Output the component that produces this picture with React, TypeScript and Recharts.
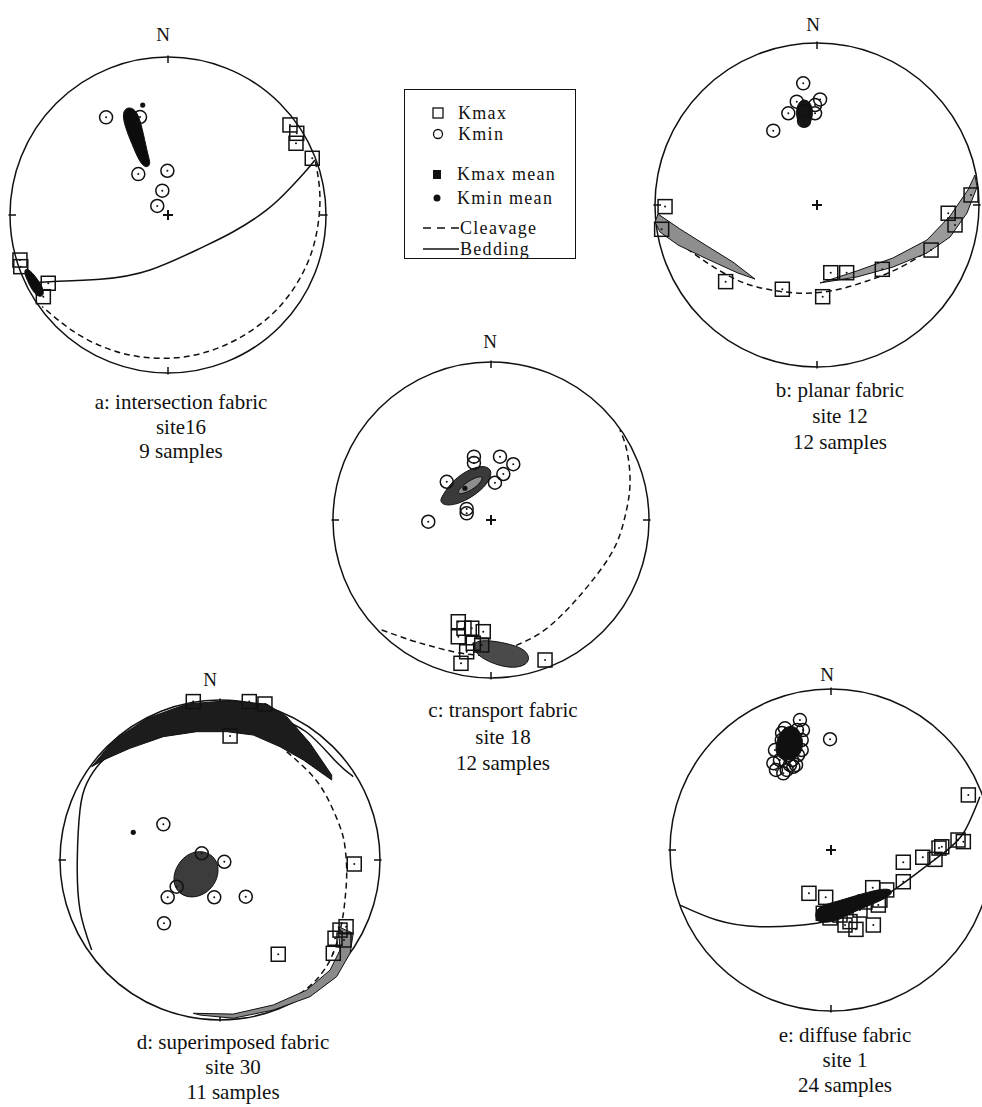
import React from "react";
import { ComposedChart, Scatter, XAxis, YAxis, ReferenceDot, ReferenceLine, Curve } from "recharts";

type Pt = { x: number; y: number };

// net coordinates: x = east, y = north, primitive circle radius = 1

// a: intersection fabric, site16
const aKmax: Pt[] = [
  { x: 0.772, y: 0.57 }, { x: 0.815, y: 0.517 }, { x: 0.81, y: 0.454 }, { x: 0.913, y: 0.359 },
  { x: -0.937, y: -0.285 }, { x: -0.932, y: -0.327 }, { x: -0.758, y: -0.432 }, { x: -0.789, y: -0.517 },
];
const aKmin: Pt[] = [
  { x: -0.392, y: 0.618 }, { x: -0.177, y: 0.62 }, { x: -0.188, y: 0.259 },
  { x: -0.004, y: 0.28 }, { x: -0.036, y: 0.154 }, { x: -0.068, y: 0.057 },
];
const aKminMean: Pt[] = [{ x: -0.16, y: 0.696 }];
const aKminCone: Pt[] = [
  { x: -0.272, y: 0.675 }, { x: -0.23, y: 0.682 }, { x: -0.188, y: 0.644 }, { x: -0.156, y: 0.517 },
  { x: -0.125, y: 0.369 }, { x: -0.109, y: 0.323 }, { x: -0.135, y: 0.296 }, { x: -0.177, y: 0.327 },
  { x: -0.23, y: 0.454 }, { x: -0.272, y: 0.559 }, { x: -0.287, y: 0.633 },
];
const aKmaxCone: Pt[] = [
  { x: -0.899, y: -0.335 }, { x: -0.861, y: -0.361 }, { x: -0.823, y: -0.411 }, { x: -0.791, y: -0.462 },
  { x: -0.785, y: -0.513 }, { x: -0.823, y: -0.519 }, { x: -0.861, y: -0.475 }, { x: -0.892, y: -0.411 },
  { x: -0.911, y: -0.361 },
];
const aBedding: Pt[] = [
  { x: -0.842, y: -0.43 }, { x: -0.747, y: -0.422 }, { x: -0.43, y: -0.407 }, { x: -0.114, y: -0.348 },
  { x: 0.203, y: -0.211 }, { x: 0.413, y: -0.106 }, { x: 0.625, y: 0.032 }, { x: 0.772, y: 0.169 },
  { x: 0.878, y: 0.285 }, { x: 0.93, y: 0.348 },
];
const aCleavage: Pt[] = [
  { x: 0.933, y: 0.34 }, { x: 0.961, y: 0.135 }, { x: 0.946, y: -0.083 }, { x: 0.889, y: -0.289 },
  { x: 0.78, y: -0.488 }, { x: 0.631, y: -0.653 }, { x: 0.45, y: -0.779 }, { x: 0.263, y: -0.861 },
  { x: 0.047, y: -0.904 }, { x: -0.19, y: -0.895 }, { x: -0.408, y: -0.836 }, { x: -0.611, y: -0.728 },
  { x: -0.797, y: -0.579 },
];

// b: planar fabric, site 12
const bKmax: Pt[] = [
  { x: -0.938, y: -0.01 }, { x: -0.959, y: -0.15 }, { x: -0.564, y: -0.473 }, { x: -0.214, y: -0.52 },
  { x: 0.035, y: -0.566 }, { x: 0.085, y: -0.418 }, { x: 0.183, y: -0.418 }, { x: 0.403, y: -0.397 },
  { x: 0.704, y: -0.278 }, { x: 0.81, y: -0.051 }, { x: 0.852, y: -0.123 }, { x: 0.951, y: 0.062 },
];
const bKmin: Pt[] = [
  { x: -0.085, y: 0.751 }, { x: -0.125, y: 0.638 }, { x: 0.019, y: 0.652 }, { x: -0.012, y: 0.617 },
  { x: -0.177, y: 0.566 }, { x: -0.012, y: 0.566 }, { x: -0.27, y: 0.459 }, { x: -0.075, y: 0.58 },
  { x: -0.08, y: 0.52 },
];
const bKminCone: Pt[] = [
  { x: -0.08, y: 0.654 }, { x: -0.043, y: 0.636 }, { x: -0.025, y: 0.586 }, { x: -0.031, y: 0.525 },
  { x: -0.062, y: 0.481 }, { x: -0.099, y: 0.481 }, { x: -0.123, y: 0.525 }, { x: -0.13, y: 0.586 },
  { x: -0.111, y: 0.636 },
];
const bKmaxConeW: Pt[] = [
  { x: -0.981, y: -0.056 }, { x: -0.846, y: -0.148 }, { x: -0.679, y: -0.253 }, { x: -0.519, y: -0.352 },
  { x: -0.383, y: -0.457 }, { x: -0.488, y: -0.42 }, { x: -0.679, y: -0.333 }, { x: -0.858, y: -0.247 },
  { x: -0.969, y: -0.167 }, { x: -1.0, y: -0.105 },
];
const bKmaxConeE: Pt[] = [
  { x: 0.019, y: -0.481 }, { x: 0.247, y: -0.407 }, { x: 0.469, y: -0.327 }, { x: 0.679, y: -0.216 },
  { x: 0.821, y: -0.068 }, { x: 0.932, y: 0.093 }, { x: 0.975, y: 0.185 }, { x: 0.988, y: 0.111 },
  { x: 0.926, y: -0.049 }, { x: 0.821, y: -0.198 }, { x: 0.679, y: -0.296 }, { x: 0.469, y: -0.383 },
  { x: 0.247, y: -0.444 },
];
const bCleavage: Pt[] = [
  { x: -0.988, y: -0.105 }, { x: -0.846, y: -0.235 }, { x: -0.685, y: -0.352 }, { x: -0.519, y: -0.451 },
  { x: -0.37, y: -0.506 }, { x: -0.198, y: -0.537 }, { x: -0.025, y: -0.543 }, { x: 0.142, y: -0.519 },
  { x: 0.309, y: -0.469 }, { x: 0.469, y: -0.407 }, { x: 0.636, y: -0.315 }, { x: 0.79, y: -0.191 },
  { x: 0.901, y: -0.043 }, { x: 0.981, y: 0.099 },
];

// c: transport fabric, site 18
const cKmax: Pt[] = [
  { x: -0.207, y: -0.644 }, { x: -0.171, y: -0.685 }, { x: -0.207, y: -0.739 }, { x: -0.122, y: -0.685 },
  { x: -0.049, y: -0.707 }, { x: -0.112, y: -0.78 }, { x: -0.154, y: -0.834 }, { x: -0.059, y: -0.791 },
  { x: -0.19, y: -0.907 }, { x: 0.342, y: -0.886 },
];
const cKmin: Pt[] = [
  { x: -0.108, y: 0.401 }, { x: 0.057, y: 0.401 }, { x: 0.141, y: 0.353 }, { x: 0.078, y: 0.291 },
  { x: 0.025, y: 0.236 }, { x: -0.28, y: 0.242 }, { x: -0.154, y: 0.042 }, { x: -0.397, y: -0.011 },
  { x: -0.154, y: 0.07 }, { x: -0.108, y: 0.361 },
];
const cKminMean: Pt[] = [{ x: -0.165, y: 0.201 }];
const cKminCone: Pt[] = [
  { x: -0.312, y: 0.147 }, { x: -0.245, y: 0.25 }, { x: -0.133, y: 0.326 }, { x: -0.036, y: 0.347 },
  { x: 0.012, y: 0.31 }, { x: -0.02, y: 0.228 }, { x: -0.112, y: 0.148 }, { x: -0.22, y: 0.096 },
  { x: -0.298, y: 0.092 }, { x: -0.322, y: 0.12 },
];
const cKminConeCore: Pt[] = [
  { x: -0.228, y: 0.165 }, { x: -0.165, y: 0.234 }, { x: -0.082, y: 0.278 }, { x: -0.044, y: 0.272 },
  { x: -0.082, y: 0.215 }, { x: -0.165, y: 0.165 },
];
const cKmaxCone: Pt[] = [
  { x: -0.112, y: -0.77 }, { x: -0.027, y: -0.759 }, { x: 0.099, y: -0.78 }, { x: 0.204, y: -0.812 },
  { x: 0.247, y: -0.865 }, { x: 0.226, y: -0.918 }, { x: 0.141, y: -0.939 }, { x: 0.036, y: -0.918 },
  { x: -0.059, y: -0.875 }, { x: -0.112, y: -0.823 },
];
const cCleavage: Pt[] = [
  { x: -0.692, y: -0.696 }, { x: -0.513, y: -0.759 }, { x: -0.365, y: -0.802 }, { x: -0.196, y: -0.842 },
  { x: -0.006, y: -0.854 }, { x: 0.141, y: -0.802 }, { x: 0.31, y: -0.717 }, { x: 0.479, y: -0.57 },
  { x: 0.627, y: -0.401 }, { x: 0.774, y: -0.19 }, { x: 0.848, y: 0.021 }, { x: 0.88, y: 0.232 },
  { x: 0.859, y: 0.443 }, { x: 0.816, y: 0.57 },
];

// d: superimposed fabric, site 30
const dKmax: Pt[] = [
  { x: -0.167, y: 0.99 }, { x: 0.183, y: 0.99 }, { x: 0.281, y: 0.975 }, { x: 0.063, y: 0.775 },
  { x: 0.839, y: -0.025 }, { x: 0.364, y: -0.589 }, { x: 0.788, y: -0.417 }, { x: 0.719, y: -0.489 },
  { x: 0.708, y: -0.583 }, { x: 0.75, y: -0.438 }, { x: 0.775, y: -0.5 },
];
const dKmin: Pt[] = [
  { x: -0.354, y: 0.223 }, { x: 0.027, y: -0.011 }, { x: -0.114, y: 0.042 }, { x: -0.327, y: -0.233 },
  { x: -0.036, y: -0.233 }, { x: 0.161, y: -0.229 }, { x: -0.35, y: -0.396 }, { x: -0.271, y: -0.167 },
];
const dKminMean: Pt[] = [{ x: -0.542, y: 0.173 }];
const dKminCone: Pt[] = [
  { x: -0.125, y: 0.063 }, { x: -0.042, y: 0.031 }, { x: -0.004, y: -0.042 }, { x: -0.021, y: -0.136 },
  { x: -0.083, y: -0.208 }, { x: -0.167, y: -0.239 }, { x: -0.25, y: -0.219 }, { x: -0.296, y: -0.146 },
  { x: -0.281, y: -0.052 }, { x: -0.219, y: 0.031 },
];
const dKmaxConeN: Pt[] = [
  { x: -0.802, y: 0.583 }, { x: -0.667, y: 0.745 }, { x: -0.458, y: 0.884 }, { x: -0.208, y: 0.975 },
  { x: 0.042, y: 0.995 }, { x: 0.292, y: 0.975 }, { x: 0.417, y: 0.896 }, { x: 0.563, y: 0.729 },
  { x: 0.698, y: 0.531 }, { x: 0.698, y: 0.5 }, { x: 0.521, y: 0.625 }, { x: 0.375, y: 0.708 },
  { x: 0.208, y: 0.781 }, { x: 0.042, y: 0.802 }, { x: -0.146, y: 0.802 }, { x: -0.354, y: 0.771 },
  { x: -0.563, y: 0.698 }, { x: -0.729, y: 0.625 },
];
const dKmaxConeSE: Pt[] = [
  { x: 0.833, y: -0.458 }, { x: 0.813, y: -0.583 }, { x: 0.729, y: -0.729 }, { x: 0.563, y: -0.854 },
  { x: 0.333, y: -0.938 }, { x: 0.083, y: -0.989 }, { x: -0.125, y: -0.969 }, { x: -0.167, y: -0.958 },
  { x: 0.083, y: -0.963 }, { x: 0.333, y: -0.906 }, { x: 0.542, y: -0.813 }, { x: 0.688, y: -0.688 },
  { x: 0.75, y: -0.563 }, { x: 0.739, y: -0.417 },
];
const dBedding: Pt[] = [
  { x: -0.802, y: -0.563 }, { x: -0.875, y: -0.313 }, { x: -0.892, y: 0 }, { x: -0.875, y: 0.313 },
  { x: -0.833, y: 0.479 }, { x: -0.75, y: 0.604 }, { x: -0.646, y: 0.688 }, { x: -0.438, y: 0.831 },
  { x: -0.188, y: 0.925 }, { x: 0.063, y: 0.955 }, { x: 0.318, y: 0.9 }, { x: 0.54, y: 0.8 },
  { x: 0.72, y: 0.62 }, { x: 0.833, y: 0.521 },
];
const dCleavage: Pt[] = [
  { x: 0.417, y: 0.677 }, { x: 0.563, y: 0.542 }, { x: 0.667, y: 0.396 }, { x: 0.75, y: 0.208 },
  { x: 0.781, y: 0.083 }, { x: 0.792, y: -0.083 }, { x: 0.781, y: -0.25 }, { x: 0.76, y: -0.396 },
  { x: 0.688, y: -0.625 }, { x: 0.531, y: -0.813 }, { x: 0.313, y: -0.925 }, { x: 0.063, y: -0.98 },
];

// e: diffuse fabric, site 1
const eKmax: Pt[] = [
  { x: 0.853, y: 0.342 }, { x: 0.822, y: 0.052 }, { x: 0.688, y: 0.02 }, { x: 0.57, y: -0.045 },
  { x: 0.646, y: -0.058 }, { x: 0.449, y: -0.076 }, { x: 0.449, y: -0.197 }, { x: 0.259, y: -0.234 },
  { x: 0.346, y: -0.248 }, { x: -0.137, y: -0.269 }, { x: -0.033, y: -0.294 }, { x: 0.294, y: -0.342 },
  { x: -0.048, y: -0.393 }, { x: 0.118, y: -0.445 }, { x: 0.263, y: -0.466 }, { x: 0.155, y: -0.493 },
  { x: 0.056, y: -0.404 }, { x: 0.18, y: -0.373 }, { x: 0.304, y: -0.311 }, { x: -0.006, y: -0.422 },
  { x: 0.087, y: -0.466 }, { x: 0.211, y: -0.323 }, { x: 0.671, y: 0.012 }, { x: 0.789, y: 0.062 },
];
const eKmin: Pt[] = [
  { x: -0.193, y: 0.807 }, { x: -0.286, y: 0.756 }, { x: -0.182, y: 0.683 }, { x: -0.306, y: 0.683 },
  { x: -0.348, y: 0.621 }, { x: -0.182, y: 0.621 }, { x: -0.358, y: 0.539 }, { x: -0.275, y: 0.497 },
  { x: -0.234, y: 0.517 }, { x: -0.296, y: 0.476 }, { x: -0.006, y: 0.688 }, { x: -0.255, y: 0.714 },
  { x: -0.224, y: 0.652 }, { x: -0.267, y: 0.59 }, { x: -0.317, y: 0.559 }, { x: -0.242, y: 0.559 },
  { x: -0.211, y: 0.745 }, { x: -0.292, y: 0.634 }, { x: -0.342, y: 0.497 }, { x: -0.205, y: 0.59 },
  { x: -0.174, y: 0.745 }, { x: -0.255, y: 0.528 }, { x: -0.304, y: 0.727 }, { x: -0.217, y: 0.528 },
];
const eKminCone: Pt[] = [
  { x: -0.255, y: 0.776 }, { x: -0.203, y: 0.756 }, { x: -0.172, y: 0.683 }, { x: -0.182, y: 0.601 },
  { x: -0.234, y: 0.559 }, { x: -0.306, y: 0.559 }, { x: -0.348, y: 0.601 }, { x: -0.337, y: 0.683 },
  { x: -0.306, y: 0.745 },
];
const eKmaxCone: Pt[] = [
  { x: -0.089, y: -0.352 }, { x: 0.035, y: -0.321 }, { x: 0.201, y: -0.269 }, { x: 0.325, y: -0.238 },
  { x: 0.387, y: -0.248 }, { x: 0.366, y: -0.29 }, { x: 0.242, y: -0.342 }, { x: 0.118, y: -0.393 },
  { x: 0.035, y: -0.445 }, { x: -0.079, y: -0.455 }, { x: -0.099, y: -0.414 },
];
const eBedding: Pt[] = [
  { x: -0.938, y: -0.342 }, { x: -0.71, y: -0.435 }, { x: -0.441, y: -0.476 }, { x: -0.089, y: -0.455 },
  { x: 0.118, y: -0.393 }, { x: 0.325, y: -0.29 }, { x: 0.532, y: -0.145 }, { x: 0.697, y: -0.02 },
  { x: 0.822, y: 0.104 }, { x: 0.925, y: 0.331 },
];

const SERIF = '"Liberation Serif", "Times New Roman", Times, serif';
const INK = "#111";

const NoMark = () => <g />;

const SquareMark = (p: any) => (
  <g>
    <rect x={p.cx - 7} y={p.cy - 7} width={14} height={14} fill="none" stroke={INK} strokeWidth={1.5} />
    <circle cx={p.cx} cy={p.cy} r={1} fill={INK} />
  </g>
);

const RingMark = (p: any) => (
  <g>
    <circle cx={p.cx} cy={p.cy} r={6.5} fill="none" stroke={INK} strokeWidth={1.5} />
    <circle cx={p.cx} cy={p.cy} r={1} fill={INK} />
  </g>
);

const MeanDot = (p: any) => <circle cx={p.cx} cy={p.cy} r={2.6} fill={INK} />;

const PlusMark = (p: any) => (
  <g stroke={INK} strokeWidth={2}>
    <line x1={p.cx - 5} y1={p.cy} x2={p.cx + 5} y2={p.cy} />
    <line x1={p.cx} y1={p.cy - 5} x2={p.cx} y2={p.cy + 5} />
  </g>
);

type Region = { pts: Pt[]; fill: string; curve: "basisClosed" | "linearClosed" };

const regionLine = (r: Region) => (props: any) => (
  <Curve points={props.points} type={r.curve} fill={r.fill} stroke={INK} strokeWidth={1} />
);

type Panel = {
  key: string;
  cx: number;
  cy: number;
  r: number;
  nX: number;
  nY: number;
  capX: number;
  capY: number;
  capGap: number;
  caption: string[];
  plus: boolean;
  kmax: Pt[];
  kmin: Pt[];
  means: Pt[];
  regions: Region[];
  bedding: Pt[][];
  cleavage: Pt[][];
};

const panels: Panel[] = [
  {
    key: "a", cx: 168, cy: 215, r: 158, nX: 163, nY: 35, capX: 181, capY: 402, capGap: 24.5,
    caption: ["a: intersection fabric", "site16", "9 samples"], plus: true,
    kmax: aKmax, kmin: aKmin, means: aKminMean,
    regions: [
      { pts: aKminCone, fill: "#0c0c0c", curve: "basisClosed" },
      { pts: aKmaxCone, fill: "#0c0c0c", curve: "basisClosed" },
    ],
    bedding: [aBedding], cleavage: [aCleavage],
  },
  {
    key: "b", cx: 817, cy: 205, r: 162, nX: 813, nY: 25, capX: 840, capY: 390, capGap: 26,
    caption: ["b: planar fabric", "site 12", "12 samples"], plus: true,
    kmax: bKmax, kmin: bKmin, means: [],
    regions: [
      { pts: bKminCone, fill: "#151515", curve: "basisClosed" },
      { pts: bKmaxConeW, fill: "#8e8e8e", curve: "linearClosed" },
      { pts: bKmaxConeE, fill: "#9a9a9a", curve: "linearClosed" },
    ],
    bedding: [], cleavage: [bCleavage],
  },
  {
    key: "c", cx: 491, cy: 520, r: 158, nX: 490, nY: 342, capX: 503, capY: 710, capGap: 26.5,
    caption: ["c: transport fabric", "site 18", "12 samples"], plus: true,
    kmax: cKmax, kmin: cKmin, means: cKminMean,
    regions: [
      { pts: cKminCone, fill: "#3a3a3a", curve: "basisClosed" },
      { pts: cKminConeCore, fill: "#8f8f8f", curve: "basisClosed" },
      { pts: cKmaxCone, fill: "#4a4a4a", curve: "basisClosed" },
    ],
    bedding: [], cleavage: [cCleavage],
  },
  {
    key: "d", cx: 220, cy: 860, r: 160, nX: 210, nY: 680, capX: 233, capY: 1042, capGap: 25,
    caption: ["d: superimposed fabric", "site 30", "11 samples"], plus: false,
    kmax: dKmax, kmin: dKmin, means: dKminMean,
    regions: [
      { pts: dKmaxConeN, fill: "#1c1c1c", curve: "linearClosed" },
      { pts: dKmaxConeSE, fill: "#8a8a8a", curve: "linearClosed" },
      { pts: dKminCone, fill: "#3c3c3c", curve: "basisClosed" },
    ],
    bedding: [dBedding], cleavage: [dCleavage],
  },
  {
    key: "e", cx: 831, cy: 850, r: 161, nX: 827, nY: 675, capX: 845, capY: 1035, capGap: 25,
    caption: ["e: diffuse fabric", "site 1", "24 samples"], plus: true,
    kmax: eKmax, kmin: eKmin, means: [],
    regions: [
      { pts: eKminCone, fill: "#101010", curve: "basisClosed" },
      { pts: eKmaxCone, fill: "#101010", curve: "basisClosed" },
    ],
    bedding: [eBedding], cleavage: [],
  },
];

const PAD = 14;

function Stereonet({ p }: { p: Panel }) {
  const size = 2 * (p.r + PAD);
  const d = (p.r + PAD) / p.r;
  const t = 6 / p.r;
  const o = 1.01;
  return (
    <div style={{ position: "absolute", left: p.cx - p.r - PAD, top: p.cy - p.r - PAD }}>
      <ComposedChart width={size} height={size} margin={{ top: 0, right: 0, bottom: 0, left: 0 }}>
        <XAxis type="number" dataKey="x" domain={[-d, d]} allowDataOverflow hide height={0} />
        <YAxis type="number" dataKey="y" domain={[-d, d]} allowDataOverflow hide width={0} />
        <ReferenceDot x={0} y={0} r={p.r} fill="none" stroke={INK} strokeWidth={1.5} />
        <ReferenceLine segment={[{ x: 0, y: o }, { x: 0, y: 1 - t }]} stroke={INK} strokeWidth={1.5} />
        <ReferenceLine segment={[{ x: 0, y: -o }, { x: 0, y: -1 + t }]} stroke={INK} strokeWidth={1.5} />
        <ReferenceLine segment={[{ x: -o, y: 0 }, { x: -1 + t, y: 0 }]} stroke={INK} strokeWidth={1.5} />
        <ReferenceLine segment={[{ x: o, y: 0 }, { x: 1 - t, y: 0 }]} stroke={INK} strokeWidth={1.5} />
        {p.cleavage.map((c, i) => (
          <Scatter
            key={"cl" + i}
            data={c}
            shape={NoMark}
            line={{ stroke: INK, strokeWidth: 1.5, strokeDasharray: "6 4" }}
            lineType="joint"
            lineJointType="natural"
            isAnimationActive={false}
          />
        ))}
        {p.bedding.map((c, i) => (
          <Scatter
            key={"bd" + i}
            data={c}
            shape={NoMark}
            line={{ stroke: INK, strokeWidth: 1.5 }}
            lineType="joint"
            lineJointType="natural"
            isAnimationActive={false}
          />
        ))}
        {p.regions.map((r, i) => (
          <Scatter
            key={"rg" + i}
            data={r.pts}
            shape={NoMark}
            line={regionLine(r)}
            lineType="joint"
            isAnimationActive={false}
          />
        ))}
        <Scatter data={p.kmax} shape={SquareMark} isAnimationActive={false} />
        <Scatter data={p.kmin} shape={RingMark} isAnimationActive={false} />
        <Scatter data={p.means} shape={MeanDot} isAnimationActive={false} />
        {p.plus && <Scatter data={[{ x: 0, y: 0 }]} shape={PlusMark} isAnimationActive={false} />}
      </ComposedChart>
    </div>
  );
}

const textLine = (x: number, y: number, size: number): React.CSSProperties => ({
  position: "absolute",
  left: x - 150,
  top: y - 12,
  width: 300,
  height: 24,
  lineHeight: "24px",
  textAlign: "center",
  fontFamily: SERIF,
  fontSize: size,
  color: INK,
  whiteSpace: "nowrap",
});

const legendRows = [
  { label: "Kmax", y: 23, kind: "square" },
  { label: "Kmin", y: 44, kind: "ring" },
  { label: "Kmax mean", y: 84, kind: "fsquare" },
  { label: "Kmin mean", y: 108, kind: "fdot" },
  { label: "Cleavage", y: 138, kind: "dash" },
  { label: "Bedding", y: 159, kind: "solid" },
];

function LegendBox() {
  return (
    <div
      style={{
        position: "absolute",
        left: 404,
        top: 89,
        width: 172,
        height: 170,
        border: "1.5px solid " + INK,
        boxSizing: "border-box",
      }}
    >
      {legendRows.map((row) => {
        const isLine = row.kind === "dash" || row.kind === "solid";
        return (
          <div key={row.label} style={{ position: "absolute", left: 0, top: row.y - 9, height: 18, width: 168 }}>
            <svg width={60} height={18} style={{ position: "absolute", left: 0, top: 0 }}>
              {row.kind === "square" && <rect x={28} y={4} width={10} height={10} fill="none" stroke={INK} strokeWidth={1.3} />}
              {row.kind === "ring" && <circle cx={33} cy={9} r={4.5} fill="none" stroke={INK} strokeWidth={1.3} />}
              {row.kind === "fsquare" && <rect x={28} y={5} width={8} height={9} fill={INK} />}
              {row.kind === "fdot" && <circle cx={32} cy={9} r={3.5} fill={INK} />}
              {row.kind === "dash" && <line x1={18} y1={9} x2={54} y2={9} stroke={INK} strokeWidth={1.6} strokeDasharray="8 6" />}
              {row.kind === "solid" && <line x1={18} y1={9} x2={54} y2={9} stroke={INK} strokeWidth={1.6} />}
            </svg>
            <span
              style={{
                position: "absolute",
                left: isLine ? 55 : row.kind === "fsquare" || row.kind === "fdot" ? 52 : 53,
                top: 0,
                height: 18,
                lineHeight: "18px",
                fontFamily: SERIF,
                fontSize: 18,
                letterSpacing: 1.3,
                color: INK,
                whiteSpace: "nowrap",
              }}
            >
              {row.label}
            </span>
          </div>
        );
      })}
    </div>
  );
}

export default function App() {
  return (
    <div
      style={{
        position: "absolute",
        left: 0,
        top: 0,
        width: 982,
        height: 1107,
        overflow: "hidden",
        background: "#fff",
      }}
    >
      {panels.map((p) => (
        <React.Fragment key={p.key}>
          <Stereonet p={p} />
          <div style={textLine(p.nX, p.nY, 19)}>N</div>
          {p.caption.map((c, i) => (
            <div key={i} style={textLine(p.capX, p.capY + i * p.capGap, 21)}>
              {c}
            </div>
          ))}
        </React.Fragment>
      ))}
      <LegendBox />
    </div>
  );
}
